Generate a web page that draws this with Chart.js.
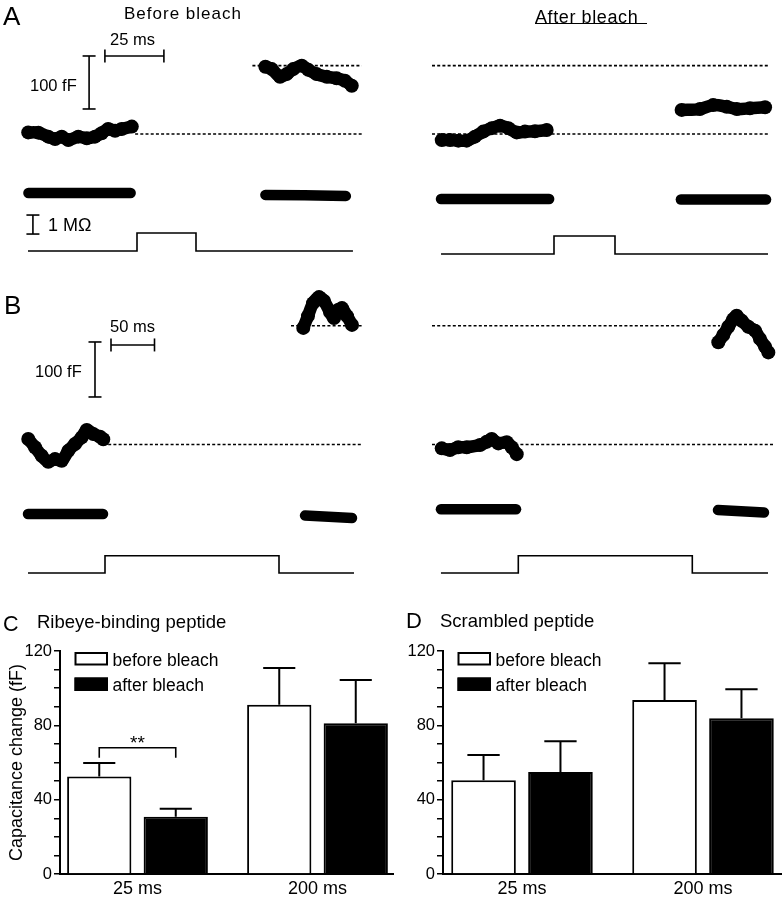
<!DOCTYPE html>
<html>
<head>
<meta charset="utf-8">
<title>Ribeye-binding peptide photobleaching</title>
<script src="https://cdn.jsdelivr.net/npm/chart.js@4.4.1/dist/chart.umd.min.js"></script>
<style>
  html, body { margin:0; padding:0; background:#fff; }
  #fig { position:relative; width:783px; height:900px; overflow:hidden; background:#fff;
         font-family:"Liberation Sans", Arial, sans-serif; color:#000; }
  #fig canvas { position:absolute; }
  .lbl { position:absolute; white-space:nowrap; line-height:1; }
  .rule { position:absolute; background:#000; }
</style>
</head>
<body>
<div id="fig"></div>
<script>
// ======================= DATA =======================
// Traces: time in ms from pulse onset, ΔCm in fF from pre-pulse baseline,
// Rm in MΩ relative to pre-pulse level, stimulus as normalised step (0 = hold, 1 = depolarised).

// ---- A: 25 ms step, before bleach ----
const aBeforePreT  = [-46.1,-41.8,-37.6,-34.7,-31.9,-29.1,-24.9,-21.3,-17.8,-15.0,-12.2,-9.3,-6.5,-2.2];
const aBeforePreC  = [3,2.5,-5,-9.5,-5,-11.5,-5,-8,-5,1.5,9.5,6,9.5,14];
const aBeforePostT = [54.4,57.1,60.6,63.4,66.2,69.8,72.6,76.1,80.4,84.6,88.1,91.0];
const aBeforePostC = [127,122.5,108,113,122.5,129,121,113,108,105,100.5,91];
const aBeforeRPreT  = [-46.0,-24.0,-2.7];
const aBeforeRPre   = [0,0,0];
const aBeforeRPostT = [54.4,71.0,88.5];
const aBeforeRPost  = [-0.1,-0.12,-0.16];
const aBeforeStimT  = [-46.2,0,0,25,25,91.5];
const aStimLevel    = [0,0,1,1,0,0];

// ---- A: 25 ms step, after bleach ----
const aAfterPreT  = [-46.0,-42.6,-39.2,-35.8,-32.4,-29.0,-25.5,-22.1,-18.7,-15.3,-11.9,-7.8,-3.0];
const aAfterPreC  = [-11.5,-11.5,-12.5,-12.5,-5,4.5,11,15.5,11,3,4.5,5,7.5];
const aAfterPostT = [52.3,59.8,65.2,70.8,74.9,80.3,86.5];
const aAfterPostC = [45.5,47,54.5,51.5,47,48.5,50.5];
const aAfterRPreT  = [-46.3,-24.0,-2.0];
const aAfterRPre   = [0,0,0];
const aAfterRPostT = [52.0,70.0,86.9];
const aAfterRPost  = [-0.03,-0.03,-0.03];
const aAfterStimT  = [-46.3,0,0,25,25,87.7];

// before-bleach jump used as the dotted reference level in A
const aRefLevels = [0,129];

// ---- B: 200 ms step, before bleach ----
const bBeforePreT  = [-88.2,-80.5,-72.8,-65.2,-57.5,-49.8,-42.2,-34.5,-26.8,-21.0,-13.4,-5.7,-2.0];
const bBeforePreC  = [10,-5,-20.5,-31.5,-26.5,-29.5,-11.5,1,13,26.5,19,14,9.5];
const bBeforePostT = [227.9,233.3,239.1,246.0,251.7,258.6,263.2,267.8,272.4,278.2,283.9];
const bBeforePostC = [212,233.5,257,268,261,241,230,244.5,248,233.5,217.5];
const bBeforeRPreT  = [-88.5,-45.0,-2.3];
const bBeforeRPre   = [0,0,0];
const bBeforeRPostT = [229.9,257.0,283.9];
const bBeforeRPost  = [-0.08,-0.14,-0.21];
const bBeforeStimT  = [-88.5,0,0,200,200,286.2];
const bStimLevel    = [0,0,1,1,0,0];

// ---- B: 200 ms step, after bleach ----
const bAfterPreT  = [-88.0,-78.5,-69.0,-59.3,-44.0,-36.3,-30.6,-23.0,-13.3,-7.6,-1.8];
const bAfterPreC  = [-7,-10,-5,-5,-1,5,10,2,4,-5,-17.5];
const bAfterPostT = [229.9,235.6,241.4,247.1,251.0,256.8,264.4,272.1,277.8,283.6,287.4];
const bAfterPostC = [186,199,214,228,234,225,214,207,192,178,167.5];
const bAfterRPreT  = [-88.9,-45.0,-2.6];
const bAfterRPre   = [0,0,0];
const bAfterRPostT = [229.5,256.0,282.4];
const bAfterRPost  = [-0.04,-0.1,-0.17];
const bAfterStimT  = [-88.9,0,0,200,200,287.0];

const bRefLevels = [0,216];

// scale bars
const aScaleMs = 25, bScaleMs = 50, scaleFF = 100, scaleMOhm = 1;

// ---- C / D: summary bars (mean ± SEM, fF) ----
const durations      = ['25 ms', '200 ms'];
const seriesNames    = ['before bleach', 'after bleach'];
const ribeyeBefore    = [52.4, 91.1];
const ribeyeBeforeErr = [7.3, 19.8];
const ribeyeAfter     = [30.8, 81.1];
const ribeyeAfterErr  = [4.3, 23.3];
const scrambledBefore    = [50.4, 93.6];
const scrambledBeforeErr = [13.6, 19.8];
const scrambledAfter     = [54.9, 83.8];
const scrambledAfterErr  = [16.5, 15.6];
const yTickLabels = [0, 40, 80, 120];
const ribeyeSignificance = [{ category: '25 ms', mark: '**' }];

// ======================= LAYOUT / RENDER =======================
const FONT = '"Liberation Sans", Arial, sans-serif';
Chart.defaults.font.family = FONT;
Chart.defaults.color = '#000';
const fig = document.getElementById('fig');

function mkCanvas(L) {
  const c = document.createElement('canvas');
  c.width = L.w; c.height = L.h;
  c.style.left = L.left + 'px'; c.style.top = L.top + 'px';
  c.style.width = L.w + 'px'; c.style.height = L.h + 'px';
  fig.appendChild(c);
  return c;
}
function label(text, x, baseline, size, extra) {
  const d = document.createElement('div');
  d.className = 'lbl';
  d.textContent = text;
  d.style.left = x + 'px';
  d.style.top = (baseline - 0.8465 * size) + 'px';
  d.style.fontSize = size + 'px';
  if (extra) Object.assign(d.style, extra);
  fig.appendChild(d);
}
const pts = (ts, vs) => ts.map((t, i) => ({ x: t, y: vs[i] }));
const cmTrace = (t, v) => ({ data: pts(t, v), yAxisID: 'y', borderColor: '#000', backgroundColor: '#000',
  borderWidth: 12.5, pointRadius: 7, pointBorderWidth: 0, pointBackgroundColor: '#000',
  borderCapStyle: 'round', borderJoinStyle: 'round', tension: 0.3 });
const rmTrace = (t, v) => ({ data: pts(t, v), yAxisID: 'yR', borderColor: '#000', borderWidth: 10.5,
  pointRadius: 0, borderCapStyle: 'round', borderJoinStyle: 'round', tension: 0 });
const stimTrace = (t, v) => ({ data: pts(t, v), yAxisID: 'yS', borderColor: '#000', borderWidth: 1.6,
  pointRadius: 0, tension: 0, borderJoinStyle: 'miter' });
const dotted = (t0, t1, level) => ({ data: [{ x: t0, y: level }, { x: t1, y: level }], yAxisID: 'y',
  borderColor: '#000', borderWidth: 1.6, borderDash: [3, 2.2], pointRadius: 0, tension: 0 });
const scaleBar = (p0, p1, axis, rot) => ({ data: [p0, p1], yAxisID: axis, borderColor: '#000', borderWidth: 1.6,
  pointStyle: 'line', pointRadius: 6.5, pointRotation: rot, pointBorderColor: '#000', pointBorderWidth: 1.6, tension: 0 });

function tracePanel(L, datasets) {
  const cv = mkCanvas(L);
  const yr = (zero, ppu) => ({ min: (zero - (L.top + L.h)) / ppu, max: (zero - L.top) / ppu });
  new Chart(cv, {
    type: 'line',
    data: { datasets },
    options: {
      responsive: false, animation: false, events: [], devicePixelRatio: 1,
      layout: { padding: 0, autoPadding: false },
      plugins: { legend: { display: false }, tooltip: { enabled: false } },
      scales: {
        x: { type: 'linear', display: false, min: (L.left - L.t0) / L.pxMs, max: (L.left + L.w - L.t0) / L.pxMs },
        y:  Object.assign({ type: 'linear', display: false }, yr(L.c0, L.pxFF)),
        yR: Object.assign({ type: 'linear', display: false }, yr(L.r0, L.pxMOhm)),
        yS: Object.assign({ type: 'linear', display: false }, yr(L.s0, L.pxStim))
      }
    }
  });
}

// Panel A – before
tracePanel({ left: 0, top: 30, w: 395, h: 240, t0: 137, pxMs: 2.36, c0: 134, pxFF: 0.53, r0: 193, pxMOhm: 19, s0: 251, pxStim: 18 }, [
  cmTrace(aBeforePreT, aBeforePreC), cmTrace(aBeforePostT, aBeforePostC),
  dotted(-0.8, 95.2, aRefLevels[0]), dotted(48.9, 95.2, aRefLevels[1]),
  rmTrace(aBeforeRPreT, aBeforeRPre), rmTrace(aBeforeRPostT, aBeforeRPost),
  stimTrace(aBeforeStimT, aStimLevel),
  scaleBar({ x: -13.6, y: 147.2 }, { x: -13.6 + aScaleMs, y: 147.2 }, 'y', 90),
  scaleBar({ x: -20.3, y: 147.2 }, { x: -20.3, y: 147.2 - scaleFF }, 'y', 0),
  scaleBar({ x: -44.1, y: -1.16 }, { x: -44.1, y: -1.16 - scaleMOhm }, 'yR', 0)
]);
// Panel A – after
tracePanel({ left: 395, top: 30, w: 388, h: 240, t0: 554, pxMs: 2.44, c0: 134, pxFF: 0.53, r0: 199, pxMOhm: 19, s0: 254, pxStim: 18 }, [
  dotted(-50, 88.1, aRefLevels[0]), dotted(-50, 88.1, aRefLevels[1]),
  cmTrace(aAfterPreT, aAfterPreC), cmTrace(aAfterPostT, aAfterPostC),
  rmTrace(aAfterRPreT, aAfterRPre), rmTrace(aAfterRPostT, aAfterRPost),
  stimTrace(aAfterStimT, aStimLevel)
]);
// Panel B – before
tracePanel({ left: 0, top: 280, w: 395, h: 305, t0: 105, pxMs: 0.87, c0: 444.5, pxFF: 0.55, r0: 514, pxMOhm: 19, s0: 573, pxStim: 17.3 }, [
  cmTrace(bBeforePreT, bBeforePreC), cmTrace(bBeforePostT, bBeforePostC),
  dotted(-2.3, 295.4, bRefLevels[0]), dotted(213.8, 295.4, bRefLevels[1]),
  rmTrace(bBeforeRPreT, bBeforeRPre), rmTrace(bBeforeRPostT, bBeforeRPost),
  stimTrace(bBeforeStimT, bStimLevel),
  scaleBar({ x: 6.9, y: 181 }, { x: 6.9 + bScaleMs, y: 181 }, 'y', 90),
  scaleBar({ x: -11.5, y: 186.4 }, { x: -11.5, y: 186.4 - scaleFF }, 'y', 0)
]);
// Panel B – after
tracePanel({ left: 395, top: 280, w: 388, h: 305, t0: 518.3, pxMs: 0.87, c0: 444.5, pxFF: 0.55, r0: 509.3, pxMOhm: 19, s0: 573, pxStim: 17.3 }, [
  dotted(-99.2, 292.8, bRefLevels[0]), dotted(-99.2, 232, bRefLevels[1]),
  cmTrace(bAfterPreT, bAfterPreC), cmTrace(bAfterPostT, bAfterPostC),
  rmTrace(bAfterRPreT, bAfterRPre), rmTrace(bAfterRPostT, bAfterRPost),
  stimTrace(bAfterStimT, bStimLevel)
]);

// ---------- bar-chart plugins ----------
const errorBarPlugin = {
  id: 'errorBars',
  afterDatasetsDraw(chart) {
    const { ctx } = chart; const ys = chart.scales.y;
    chart.data.datasets.forEach((ds, di) => {
      chart.getDatasetMeta(di).data.forEach((bar, i) => {
        const top = ys.getPixelForValue(ds.data[i].y + ds.errors[i]);
        ctx.save(); ctx.strokeStyle = '#000'; ctx.lineWidth = 2;
        ctx.beginPath();
        ctx.moveTo(bar.x, bar.y); ctx.lineTo(bar.x, top);
        ctx.moveTo(bar.x - bar.width / 4, top); ctx.lineTo(bar.x + bar.width / 4, top);
        ctx.stroke(); ctx.restore();
      });
    });
  }
};
const boxLegendPlugin = {
  id: 'boxLegend',
  afterDraw(chart, args, o) {
    const { ctx, chartArea } = chart;
    chart.data.datasets.forEach((ds, i) => {
      const x = chartArea.left + o.dx, y = chartArea.top + o.dy + i * o.rowGap;
      ctx.save();
      ctx.fillStyle = ds.backgroundColor; ctx.fillRect(x, y, o.boxW, o.boxH);
      ctx.strokeStyle = '#000'; ctx.lineWidth = 2; ctx.strokeRect(x + 1, y + 1, o.boxW - 2, o.boxH - 2);
      ctx.fillStyle = '#000'; ctx.font = o.size + 'px ' + FONT; ctx.textBaseline = 'alphabetic';
      ctx.fillText(ds.label, x + o.boxW + o.gap, y + o.boxH);
      ctx.restore();
    });
  }
};
const sigPlugin = {
  id: 'sigBracket',
  afterDatasetsDraw(chart, args, o) {
    if (!o.marks) return;
    const { ctx } = chart; const ys = chart.scales.y;
    o.marks.forEach(m => {
      const idx = durations.indexOf(m.category);
      const bars = chart.data.datasets.map((ds, di) => chart.getDatasetMeta(di).data[idx]);
      const topVal = Math.max(...chart.data.datasets.map(ds => ds.data[idx].y + ds.errors[idx]));
      const yLine = ys.getPixelForValue(topVal + 8.2), yLeg = ys.getPixelForValue(topVal + 2.8);
      const x0 = bars[0].x, x1 = bars[bars.length - 1].x;
      ctx.save(); ctx.strokeStyle = '#000'; ctx.lineWidth = 1.6;
      ctx.beginPath(); ctx.moveTo(x0, yLeg); ctx.lineTo(x0, yLine); ctx.lineTo(x1, yLine); ctx.lineTo(x1, yLeg); ctx.stroke();
      ctx.fillStyle = '#000'; ctx.font = '19px ' + FONT; ctx.textAlign = 'center'; ctx.textBaseline = 'alphabetic';
      ctx.fillText(m.mark, (x0 + x1) / 2, yLine + 1);
      ctx.restore();
    });
  }
};

function barPanel(L, before, beforeErr, after, afterErr, yTitle, marks) {
  const cv = mkCanvas(L);
  const datasets = [
    { label: seriesNames[0], data: durations.map((d, i) => ({ x: i, y: before[i] })), errors: beforeErr,
      backgroundColor: '#fff', borderColor: '#000', borderWidth: 2 },
    { label: seriesNames[1], data: durations.map((d, i) => ({ x: i, y: after[i] })), errors: afterErr,
      backgroundColor: '#000', borderColor: '#000', borderWidth: 2 }
  ];
  const axL = L.axisLeft - L.left, axR = L.axisRight - L.left, c0 = L.firstCenter - L.left;
  new Chart(cv, {
    type: 'bar',
    data: { datasets },
    options: {
      responsive: false, animation: false, events: [], devicePixelRatio: 1,
      layout: { padding: { top: L.axisTop - L.top, right: L.w - axR, left: 0, bottom: 0 } },
      datasets: { bar: { categoryPercentage: 0.85, barPercentage: 0.84 } },
      scales: {
        x: {
          type: 'linear', min: -(c0 - axL) / L.catPx, max: (axR - c0) / L.catPx, offset: false,
          grid: { display: false, drawTicks: false, offset: false },
          border: { display: true, color: '#000', width: 2 },
          afterBuildTicks: s => { s.ticks = durations.map((d, i) => ({ value: i })); },
          ticks: { autoSkip: false, maxRotation: 0, padding: 4, font: { size: 18 }, callback: v => durations[v] ?? '' },
          afterFit: s => { s.height = L.top + L.h - L.axisBottom; }
        },
        y: {
          min: 0, max: 120,
          ticks: { stepSize: 10, autoSkip: false, padding: 2, font: { size: 16.5 },
                   callback: v => yTickLabels.includes(v) ? String(v) : '' },
          grid: { display: true, drawOnChartArea: false, drawTicks: true, tickLength: 6, color: '#000', lineWidth: 1.5 },
          border: { display: true, color: '#000', width: 2 },
          title: { display: !!yTitle, text: yTitle || '', font: { size: 18 }, padding: { top: 6.5, bottom: 0 } },
          afterFit: s => { s.width = axL; }
        }
      },
      plugins: {
        legend: { display: false }, tooltip: { enabled: false },
        boxLegend: { dx: 14.5, dy: 1, rowGap: 25.5, boxW: 33.5, boxH: 13.5, gap: 4.5, size: 17.5 },
        sigBracket: { marks }
      }
    },
    plugins: [errorBarPlugin, boxLegendPlugin, sigPlugin]
  });
}

barPanel({ left: 0, top: 600, w: 400, h: 300, axisLeft: 60, axisRight: 393, axisTop: 651, axisBottom: 874, firstCenter: 137.5, catPx: 180 },
  ribeyeBefore, ribeyeBeforeErr, ribeyeAfter, ribeyeAfterErr, 'Capacitance change (fF)', ribeyeSignificance);
barPanel({ left: 400, top: 600, w: 383, h: 300, axisLeft: 443, axisRight: 781, axisTop: 651, axisBottom: 874, firstCenter: 522, catPx: 181 },
  scrambledBefore, scrambledBeforeErr, scrambledAfter, scrambledAfterErr, null, null);

// ---------- text ----------
label('A', 3, 25, 26);
label('Before bleach', 124, 19.5, 17, { letterSpacing: '1px' });
label('After bleach', 535, 23, 18, { letterSpacing: '0.6px' });
const ul = document.createElement('div'); ul.className = 'rule';
Object.assign(ul.style, { left: '535px', top: '23px', width: '112px', height: '1.3px' }); fig.appendChild(ul);
label('25 ms', 110, 45, 16.5);
label('100 fF', 30, 90.7, 16.5);
label('1 MΩ', 48, 231.7, 18);
label('B', 4, 314, 26);
label('50 ms', 110, 331.7, 16.5);
label('100 fF', 35, 376.7, 16.5);
label('C', 3, 631.7, 21.5);
label('Ribeye-binding peptide', 37, 629, 18.5);
label('D', 406, 629, 22);
label('Scrambled peptide', 440, 627.7, 18.5);
</script>
</body>
</html>
